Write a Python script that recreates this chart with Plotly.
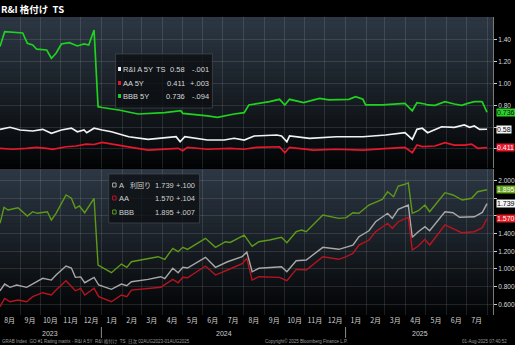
import plotly.graph_objects as go

# ---------------- data ----------------
# Top panel: R&I 5Y spreads (TS)
top_a_dates = ["2023-08-02","2023-08-17","2023-09-01","2023-09-20","2023-10-05","2023-10-18","2023-11-02",
               "2023-11-17","2023-11-26","2023-12-06","2023-12-10","2023-12-21","2024-01-02","2024-01-16",
               "2024-02-11","2024-03-11","2024-04-22","2024-04-28","2024-05-05","2024-06-08","2024-07-03",
               "2024-07-18","2024-08-02","2024-08-17","2024-09-20","2024-09-27","2024-10-05","2024-10-09",
               "2024-11-08","2024-12-18","2025-01-27","2025-03-02","2025-03-31","2025-04-11","2025-04-18",
               "2025-04-26","2025-05-04","2025-05-15","2025-05-25","2025-06-13","2025-06-28","2025-07-06",
               "2025-07-13","2025-07-21","2025-07-25","2025-08-01"]
top_a_vals = [0.579,0.598,0.573,0.564,0.579,0.543,0.573,0.591,0.557,0.573,0.548,0.589,0.573,0.557,
              0.511,0.487,0.511,0.465,0.511,0.481,0.481,0.497,0.481,0.518,0.527,0.518,0.465,0.518,
              0.497,0.511,0.511,0.527,0.548,0.487,0.579,0.589,0.548,0.579,0.603,0.598,0.619,0.598,
              0.610,0.579,0.581,0.580]

top_aa_dates = ["2023-08-02","2023-08-21","2023-09-11","2023-09-26","2023-10-11","2023-10-20","2023-11-09",
                "2023-11-24","2023-12-09","2023-12-21","2024-01-02","2024-01-16","2024-02-15","2024-03-11",
                "2024-04-25","2024-05-02","2024-05-09","2024-06-08","2024-07-12","2024-08-02","2024-08-21",
                "2024-09-24","2024-10-02","2024-10-09","2024-11-14","2024-12-18","2025-01-27","2025-03-06",
                "2025-03-31","2025-04-11","2025-04-18","2025-04-26","2025-05-15","2025-05-30","2025-06-13",
                "2025-06-28","2025-07-09","2025-07-18","2025-07-25","2025-08-01"]
top_aa_vals = [0.405,0.396,0.405,0.414,0.405,0.396,0.419,0.426,0.444,0.440,0.460,0.444,0.414,0.389,
               0.405,0.383,0.414,0.396,0.405,0.396,0.414,0.419,0.364,0.414,0.389,0.396,0.389,0.405,
               0.414,0.364,0.435,0.420,0.426,0.456,0.435,0.435,0.444,0.405,0.408,0.411]

top_bbb_dates = ["2023-08-02","2023-08-09","2023-09-05","2023-09-12","2023-09-20","2023-09-26","2023-10-11",
                 "2023-10-18","2023-10-25","2023-11-02","2023-11-14","2023-11-26","2023-12-06","2023-12-13",
                 "2023-12-21","2023-12-27","2024-01-02","2024-01-16","2024-01-27","2024-02-25","2024-04-05",
                 "2024-04-29","2024-05-02","2024-06-08","2024-06-23","2024-07-18","2024-08-02","2024-08-09",
                 "2024-09-09","2024-09-24","2024-10-02","2024-10-09","2024-10-30","2024-11-23","2024-12-07",
                 "2025-01-06","2025-01-16","2025-01-27","2025-01-31","2025-02-25","2025-03-31","2025-04-11",
                 "2025-04-18","2025-04-30","2025-05-04","2025-05-15","2025-05-30","2025-06-13","2025-06-24",
                 "2025-07-03","2025-07-13","2025-07-23","2025-07-25","2025-08-01"]
top_bbb_vals = [1.339,1.476,1.464,1.370,1.354,1.315,1.308,1.232,1.278,1.363,1.375,1.345,1.363,1.354,
                1.492,0.787,0.780,0.766,0.757,0.720,0.732,0.750,0.726,0.702,0.690,0.720,0.732,0.803,
                0.833,0.855,0.803,0.855,0.824,0.864,0.850,0.855,0.879,0.855,0.803,0.803,0.818,0.750,
                0.824,0.812,0.803,0.800,0.833,0.812,0.800,0.818,0.833,0.833,0.830,0.736]

# Bottom panel: yields (利回り)
bot_a_dates = ["2023-08-02","2023-08-09","2023-08-17","2023-08-27","2023-09-11","2023-09-20","2023-10-05",
               "2023-10-18","2023-10-25","2023-11-09","2023-11-17","2023-11-23","2023-12-01","2023-12-07",
               "2023-12-21","2023-12-28","2024-01-16","2024-01-31","2024-02-08","2024-02-15","2024-03-11",
               "2024-03-30","2024-04-05","2024-04-17","2024-04-25","2024-05-02","2024-05-09","2024-06-05",
               "2024-06-20","2024-07-08","2024-07-30","2024-08-06","2024-08-14","2024-08-24","2024-09-09",
               "2024-09-27","2024-10-05","2024-10-19","2024-11-03","2024-11-28","2024-12-22","2025-01-02",
               "2025-01-12","2025-01-21","2025-02-05","2025-02-15","2025-03-05","2025-03-12","2025-03-21",
               "2025-04-05","2025-04-11","2025-04-20","2025-04-30","2025-05-07","2025-05-30","2025-06-11",
               "2025-06-21","2025-07-13","2025-07-25","2025-08-01"]
bot_a_vals = [0.753,0.829,0.792,0.818,0.792,0.829,0.894,0.874,0.931,1.033,1.010,0.905,0.910,0.844,
              0.905,0.818,0.769,0.829,0.810,0.855,0.882,0.912,0.890,1.007,0.957,1.018,1.010,1.131,
              1.018,1.081,1.140,1.190,0.968,1.007,1.018,1.025,0.968,1.093,1.101,1.244,1.222,1.244,
              1.270,1.364,1.432,1.534,1.629,1.572,1.674,1.723,1.357,1.421,1.477,1.432,1.647,1.636,
              1.584,1.590,1.639,1.739]

bot_aa_dates = ["2023-08-02","2023-08-09","2023-08-17","2023-08-29","2023-09-11","2023-09-20","2023-10-05",
                "2023-10-18","2023-10-25","2023-11-09","2023-11-23","2023-12-01","2023-12-07","2023-12-21",
                "2023-12-28","2024-01-16","2024-01-31","2024-02-08","2024-02-15","2024-03-11","2024-03-30",
                "2024-04-17","2024-04-25","2024-05-02","2024-05-09","2024-06-05","2024-06-20","2024-07-08",
                "2024-07-30","2024-08-06","2024-08-14","2024-08-24","2024-09-09","2024-09-24","2024-10-05",
                "2024-10-19","2024-11-03","2024-11-28","2024-12-22","2025-01-02","2025-01-12","2025-01-21",
                "2025-02-05","2025-02-15","2025-03-05","2025-03-12","2025-03-21","2025-04-05","2025-04-11",
                "2025-04-20","2025-04-30","2025-05-07","2025-05-30","2025-06-11","2025-06-24","2025-07-13",
                "2025-07-25","2025-08-01"]
bot_aa_vals = [0.572,0.667,0.629,0.648,0.629,0.686,0.731,0.705,0.761,0.867,0.753,0.781,0.705,0.781,
               0.686,0.629,0.705,0.686,0.761,0.781,0.792,0.882,0.844,0.905,0.900,1.033,0.931,0.988,
               1.060,1.120,0.874,0.912,0.912,0.905,0.867,0.995,0.988,1.138,1.109,1.138,1.176,1.270,
               1.327,1.421,1.516,1.459,1.534,1.584,1.214,1.259,1.335,1.270,1.497,1.459,1.410,1.421,
               1.466,1.570]

bot_bbb_dates = ["2023-08-02","2023-08-08","2023-08-14","2023-08-29","2023-09-12","2023-09-20","2023-09-27",
                 "2023-10-12","2023-10-18","2023-10-25","2023-11-09","2023-11-17","2023-11-23","2023-11-29",
                 "2023-12-07","2023-12-21","2023-12-27","2024-01-16","2024-01-31","2024-02-08","2024-02-15",
                 "2024-03-11","2024-03-26","2024-04-05","2024-04-17","2024-04-25","2024-05-02","2024-05-09",
                 "2024-06-05","2024-06-20","2024-07-05","2024-07-12","2024-08-02","2024-08-14","2024-08-24",
                 "2024-09-09","2024-09-27","2024-10-05","2024-10-19","2024-10-27","2024-11-03","2024-11-28",
                 "2024-12-22","2025-01-02","2025-01-12","2025-01-21","2025-02-05","2025-02-25","2025-03-05",
                 "2025-03-14","2025-03-21","2025-03-31","2025-04-05","2025-04-11","2025-04-20","2025-04-30",
                 "2025-05-07","2025-05-30","2025-06-11","2025-06-25","2025-07-09","2025-07-18","2025-07-25",
                 "2025-08-01"]
bot_bbb_vals = [1.516,1.697,1.666,1.692,1.598,1.647,1.629,1.647,1.553,1.629,1.836,1.799,1.686,1.712,
                1.636,1.799,1.044,0.957,1.055,1.018,1.081,1.120,1.138,1.109,1.233,1.195,1.244,1.220,
                1.346,1.244,1.308,1.300,1.383,1.255,1.308,1.327,1.357,1.296,1.421,1.440,1.421,1.610,
                1.572,1.580,1.636,1.630,1.723,1.787,1.873,1.817,1.938,1.957,1.975,1.629,1.658,1.723,
                1.647,1.862,1.836,1.779,1.799,1.873,1.888,1.895]

top_names = ["R&I A 5Y", "AA 5Y", "BBB 5Y"]
top_last = ["0.58", "0.411", "0.736"]
top_chg = ["-.001", "+.003", "-.094"]
bot_names = ["A", "AA", "BBB"]
bot_last = ["1.739", "1.570", "1.895"]
bot_chg = ["+.100", "+.104", "+.007"]

top_ticks = [0.4, 0.6, 0.8, 1.0, 1.2, 1.4]
top_ticktext = ["", "", "0.80", "1.00", "1.20", "1.40"]
bot_ticks = [0.6, 0.8, 1.0, 1.2, 1.4, 1.6, 1.8, 2.0]
bot_ticktext = ["0.600", "0.800", "1.000", "1.200", "1.400", "", "", "2.000"]
years = ["2023", "2024", "2025"]
year_centers = ["2023-10-16", "2024-07-03", "2025-04-22"]
year_breaks = ["2024-01-01", "2025-01-01"]

# ---------------- layout geometry ----------------
W, H = 515, 345
ML, MR, MT, MB = 0, 16, 17, 30
PW = W - ML - MR
PH = H - MT - MB


def fx(px):
    return (px - ML) / PW


def fy(py):
    return (H - MB - py) / PH


TOP_DOM = [fy(168), 1.0]
BOT_DOM = [0.0, fy(169)]

FONT = "Liberation Sans, Arial, Noto Sans CJK JP, sans-serif"
JFONT = "Noto Sans CJK JP, Liberation Sans, sans-serif"
LEGF = 7.5

C_TOP = {"A": "#f2f2f2", "AA": "#e8172c", "BBB": "#1fd21f"}
C_BOT = {"A": "#a8a8a8", "AA": "#b8141e", "BBB": "#5d9a18"}

fig = go.Figure()

for d, v, c in [(top_a_dates, top_a_vals, C_TOP["A"]),
                (top_aa_dates, top_aa_vals, C_TOP["AA"]),
                (top_bbb_dates, top_bbb_vals, C_TOP["BBB"])]:
    fig.add_trace(go.Scatter(x=d, y=v, mode="lines", line=dict(color=c, width=1.7),
                             xaxis="x2", yaxis="y2", hoverinfo="skip", showlegend=False))
for d, v, c in [(bot_bbb_dates, bot_bbb_vals, C_BOT["BBB"]),
                (bot_a_dates, bot_a_vals, C_BOT["A"]),
                (bot_aa_dates, bot_aa_vals, C_BOT["AA"])]:
    fig.add_trace(go.Scatter(x=d, y=v, mode="lines", line=dict(color=c, width=1.4),
                             xaxis="x", yaxis="y", hoverinfo="skip", showlegend=False))

shapes = []


def hexmix(c1, c2, t):
    a = [int(c1[i:i + 2], 16) for i in (1, 3, 5)]
    b = [int(c2[i:i + 2], 16) for i in (1, 3, 5)]
    return "#%02x%02x%02x" % tuple(round(a[k] + (b[k] - a[k]) * t) for k in range(3))


NB = 40
for dom in (TOP_DOM, BOT_DOM):
    y0, y1 = dom
    for i in range(NB):
        t = i / (NB - 1)
        col = hexmix("#020304", "#2c3743", t ** 0.9)
        shapes.append(dict(type="rect", xref="paper", yref="paper", layer="below",
                           x0=0, x1=1, y0=y0 + (y1 - y0) * i / NB,
                           y1=min(y1, y0 + (y1 - y0) * (i + 1) / NB + 0.002),
                           fillcolor=col, line=dict(width=0)))

for d in year_breaks:
    shapes.append(dict(type="line", xref="x", yref="paper", x0=d, x1=d,
                       y0=fy(327), y1=fy(338), line=dict(color="#8a8a8a", width=1)))

shapes.append(dict(type="rect", xref="paper", yref="paper", x0=fx(117), x1=fx(215), y0=fy(108), y1=fy(54),
                   fillcolor="rgba(10,12,15,0.72)", line=dict(color="rgba(70,76,82,0.7)", width=1)))
shapes.append(dict(type="rect", xref="paper", yref="paper", x0=fx(110), x1=fx(202), y0=fy(223), y1=fy(174),
                   fillcolor="rgba(10,12,15,0.72)", line=dict(color="rgba(70,76,82,0.7)", width=1)))

annotations = []
row_y_top = [69, 83, 96]
row_y_bot = [185, 198, 212]


def txt(x, y, s, anchor, color, size=LEGF, family=FONT):
    return dict(x=fx(x), y=fy(y), xref="paper", yref="paper", text=s, xanchor=anchor,
                yanchor="middle", showarrow=False, borderpad=0,
                font=dict(family=family, size=size, color=color))


for i, key in enumerate(["A", "AA", "BBB"]):
    yy = row_y_top[i]
    shapes.append(dict(type="rect", xref="paper", yref="paper", x0=fx(119.5), x1=fx(122.5),
                       y0=fy(yy + 2), y1=fy(yy - 2), fillcolor=C_TOP[key], line=dict(width=0)))
    annotations.append(txt(123.5, yy, top_names[i], "left", "#d8d8d8"))
    annotations.append(txt(188.5, yy, top_last[i], "right", "#d8d8d8"))
    annotations.append(txt(212.5, yy, top_chg[i], "right", "#d8d8d8"))
    yb = row_y_bot[i]
    shapes.append(dict(type="rect", xref="paper", yref="paper", x0=fx(114), x1=fx(117.5),
                       y0=fy(yb + 2), y1=fy(yb - 2), fillcolor="rgba(0,0,0,0)",
                       line=dict(color=C_BOT[key], width=1)))
    annotations.append(txt(119, yb, bot_names[i], "left", "#d0d0d0"))
    annotations.append(txt(177, yb, bot_last[i], "right", "#d0d0d0"))
    annotations.append(txt(198.5, yb, bot_chg[i], "right", "#d0d0d0"))

annotations.append(txt(157, row_y_top[0], "TS", "left", "#d8d8d8"))
annotations.append(txt(130.5, row_y_bot[0], "利回り", "left", "#d0d0d0", size=7, family=JFONT))

tags = [("y2", top_last[2], top_bbb_vals[-1], "#2bd02b", "#0a0a0a"),
        ("y2", top_last[0], top_a_vals[-1], "#f4f4f4", "#000000"),
        ("y2", top_last[1], top_aa_vals[-1], "#e8172c", "#ffffff"),
        ("y", bot_last[2], bot_bbb_vals[-1], "#6aa81c", "#ffffff"),
        ("y", bot_last[0], bot_a_vals[-1], "#f4f4f4", "#000000"),
        ("y", bot_last[1], bot_aa_vals[-1], "#e41a22", "#ffffff")]
for yr, s, val, bg, fg in tags:
    annotations.append(dict(x=1.0, y=val, xref="paper", yref=yr, text=s, xanchor="left",
                            yanchor="middle", xshift=3, showarrow=False, bgcolor=bg, borderpad=0,
                            font=dict(family=FONT, size=7, color=fg)))

for yl, yc in zip(years, year_centers):
    annotations.append(dict(x=yc, y=fy(333), xref="x", yref="paper", text=yl, showarrow=False,
                            xanchor="center", yanchor="middle",
                            font=dict(family=FONT, size=7, color="#cfcfcf")))

annotations.append(txt(0, 8.5, "<b>R&I 格付け  TS</b>", "left", "#ffffff", size=9.5, family=JFONT))

annotations.append(txt(1, 341, "GRAB Index  GO #1 Rating matrix - R&I A 5Y  R&I 格付け  TS  日次 02AUG2023-01AUG2025",
                       "left", "#9a9a9a", size=4.5))
annotations.append(txt(310, 341, "Copyright© 2025 Bloomberg Finance L.P.", "center", "#9a9a9a", size=4.5))
annotations.append(txt(514, 341, "01-Aug-2025 07:40:52", "right", "#9a9a9a", size=4.5))

GRID = "rgba(255,255,255,0.11)"
XR = ["2023-08-02", "2025-08-10"]
common_x = dict(range=XR, type="date", dtick="M1", tick0="2023-08-01", showgrid=True, gridcolor=GRID,
                gridwidth=1, zeroline=False, showline=False, ticks="")

fig.update_layout(
    width=W, height=H, margin=dict(l=ML, r=MR, t=MT, b=MB, pad=0),
    paper_bgcolor="#000000", plot_bgcolor="rgba(0,0,0,0)",
    showlegend=False,
    xaxis=dict(**common_x, anchor="y", domain=[0, 1], ticklabelmode="period", tickformat="%-m月",
               tickfont=dict(family=JFONT, size=7, color="#d4d4d4")),
    xaxis2=dict(**common_x, anchor="y2", domain=[0, 1], matches="x", showticklabels=False),
    yaxis=dict(domain=BOT_DOM, range=[0.479, 2.130], side="right", anchor="x", tickvals=bot_ticks,
               ticktext=bot_ticktext, showgrid=True, gridcolor=GRID, zeroline=False, showline=True,
               linecolor="#7a7a7a", linewidth=1, ticks="outside", ticklen=3, tickcolor="#cfcfcf",
               tickfont=dict(family=FONT, size=6.5, color="#dcdcdc")),
    yaxis2=dict(domain=TOP_DOM, range=[0.224, 1.611], side="right", anchor="x2", tickvals=top_ticks,
                ticktext=top_ticktext, showgrid=True, gridcolor=GRID, zeroline=False, showline=True,
                linecolor="#7a7a7a", linewidth=1, ticks="outside", ticklen=3, tickcolor="#cfcfcf",
                tickfont=dict(family=FONT, size=6.5, color="#dcdcdc")),
    shapes=shapes,
    annotations=annotations,
)

fig.write_html("out.html")
